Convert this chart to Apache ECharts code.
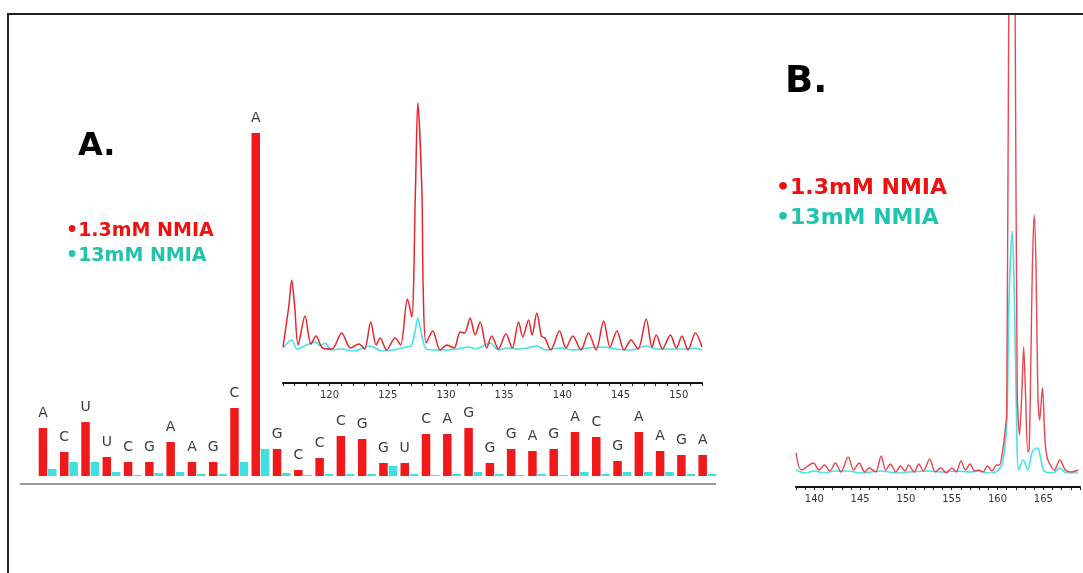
<!DOCTYPE html>
<html>
<head>
<meta charset="utf-8">
<script src="https://cdn.jsdelivr.net/npm/echarts@6/dist/echarts.min.js"></script>
<style>
  html, body { margin: 0; padding: 0; background: #fff; }
  #chart { width: 1083px; height: 573px; }
</style>
</head>
<body>
<div id="chart"></div>
<script>
// panel A bars: nucleotide letters and reactivities (arbitrary units)
var nucleotides = ['A','C','U','U','C','G','A','A','G','C','A','G','C','C','C','G',
                   'G','U','C','A','G','G','G','A','G','A','C','G','A','A','G','A']
var lowNmia = [0.48,0.24,0.54,0.19,0.14,0.14,0.34,0.14,0.14,0.68,3.43,0.27,0.06,0.18,0.40,0.37,
               0.13,0.13,0.42,0.42,0.48,0.13,0.27,0.25,0.27,0.44,0.39,0.15,0.44,0.25,0.21,0.21]
var highNmia = [0.07,0.14,0.14,0.04,0.01,0.03,0.04,0.02,0.02,0.14,0.27,0.03,0.01,0.02,0.02,0.02,
                0.10,0.02,0.01,0.02,0.04,0.02,0.01,0.02,0.01,0.04,0.02,0.04,0.04,0.04,0.02,0.02]

// panel A inset trace: [nucleotide position, signal]
var insetLow = [[116.0,0.4],[116.5,4.5],[116.75,7.1],[117.0,4.5],[117.3,0.6],[117.89,3.5],[118.4,0.7],
  [118.84,1.5],[119.4,0.3],[120.2,0.2],[121.04,1.8],[121.8,0.3],[122.53,0.7],[123.0,0.2],[123.54,2.9],
  [124.0,0.6],[124.34,1.3],[124.9,0.1],[125.63,1.3],[126.1,0.6],[126.69,5.2],[127.06,3.4],[127.38,16.1],
  [127.58,24.8],[127.93,16.1],[128.05,6.0],[128.3,0.8],[128.87,2.0],[129.5,0.1],[130.1,0.6],[130.7,0.3],
  [131.22,1.9],[131.6,1.8],[132.08,3.3],[132.5,1.6],[132.94,2.9],[133.5,0.3],[133.94,1.5],[134.5,0.2],
  [135.15,1.7],[135.7,0.3],[136.24,2.9],[136.6,1.4],[137.1,3.1],[137.4,1.6],[137.81,3.8],[138.2,1.5],
  [138.5,1.3],[139.0,0.1],[139.76,2.0],[140.3,0.3],[140.9,1.5],[141.6,0.1],[142.25,1.8],[142.9,0.1],
  [143.55,3.0],[144.1,0.4],[144.69,2.0],[145.3,0.1],[145.9,1.1],[146.5,0.2],[147.21,3.2],[147.7,0.4],
  [148.07,1.6],[148.6,0.2],[149.28,1.6],[149.8,0.3],[150.28,1.5],[150.8,0.1],[151.43,1.8],[152.0,0.4]]
var insetHigh = [[116.0,0.3],[116.75,1.1],[117.2,0.2],[118.0,0.6],[118.8,0.9],[119.2,0.5],[119.6,0.8],
  [120.2,0.1],[121.0,0.2],[122.0,0],[123.5,0.5],[124.5,0],[125.5,0.1],[126.6,0.4],[127.0,0.5],
  [127.35,2.0],[127.58,3.3],[127.85,2.0],[128.3,0.2],[129.0,0.1],[130.0,0.1],[131.0,0.2],[132.0,0.4],
  [132.5,0.2],[133.0,0.4],[133.8,0.8],[134.5,0.1],[135.2,0.3],[136.2,0.2],[137.0,0.3],[137.8,0.5],
  [138.6,0.1],[139.8,0.3],[140.9,0.1],[142.2,0.3],[143.5,0.4],[144.6,0.2],[145.9,0.1],[147.2,0.5],
  [148.1,0.2],[149.3,0.2],[150.3,0.2],[151.4,0.3],[152.0,0.1]]

// panel B trace
var traceLow = [[138.0,2.0],[138.6,0.3],[139.9,1.0],[140.5,0.3],[141.1,0.8],[141.7,0.2],[142.3,1.0],
  [142.9,0.1],[143.7,1.6],[144.3,0.3],[144.9,1.0],[145.5,0.1],[146.0,0.5],[146.7,0.1],[147.3,1.7],
  [147.8,0.3],[148.3,0.9],[148.9,0.1],[149.4,0.7],[149.9,0.2],[150.3,0.8],[150.9,0.1],[151.4,0.9],
  [151.9,0.2],[152.6,1.4],[153.2,0.1],[153.8,0.5],[154.4,0],[155.0,0.5],[155.5,0.1],[156.0,1.2],
  [156.5,0.3],[157.0,0.9],[157.5,0.2],[157.9,0.3],[158.4,0.1],[158.9,0.7],[159.4,0.2],[159.9,0.8],
  [160.2,0.8],[160.6,2.5],[160.8,4.0],[161.0,6.0],[161.22,46],[161.57,80],[161.92,46],[162.15,8],
  [162.4,3.8],[162.65,8],[162.85,12.6],[163.05,8],[163.3,2.1],[163.45,2.4],[163.65,12],[163.8,20.6],
  [164.0,25.8],[164.2,20.6],[164.4,8],[164.6,5.3],[164.9,8.5],[165.2,3],[165.5,1.3],[166.2,0.3],
  [166.8,1.3],[167.4,0.3],[168.0,0.1],[168.8,0.3]]
var traceHigh = [[138.0,0.3],[139.0,0],[140.0,0.2],[141.0,0],[142.3,0.2],[143.7,0.2],[145.0,0],
  [147.3,0.2],[149.0,0],[150.3,0.1],[152.6,0.2],[154.0,0.1],[155.5,0.2],[157.0,0.1],[158.0,0.2],
  [159.0,0],[160.0,0.2],[160.6,1.3],[161.0,5],[161.25,17.3],[161.6,24.2],[161.85,17],[162.1,4],
  [162.3,0.3],[162.8,1.3],[163.3,0.3],[163.7,1.8],[163.9,2.3],[164.4,2.5],[164.7,1.5],[165.1,0.2],
  [166.0,0],[166.8,0.5],[167.5,0],[168.8,0]]

var RED = '#f01a1a'
var CYAN = '#40e0e2'
var TRACE_RED = '#e8252d'
var TRACE_CYAN = '#45e2e8'

var chart = echarts.init(document.getElementById('chart'), null, { renderer: 'canvas' })

function traceAxis(min, max, offset, gridIndex) {
  return {
    type: 'value',
    gridIndex: gridIndex,
    min: min,
    max: max,
    interval: 1,
    offset: offset,
    axisLine: { show: true, onZero: false, lineStyle: { color: '#111', width: 2 } },
    axisTick: { show: true, length: 3, lineStyle: { color: '#222', width: 1 } },
    axisLabel: {
      margin: 7,
      fontSize: 10,
      fontFamily: 'DejaVu Sans',
      color: '#333',
      formatter: function (v) {
        return v % 5 === 0 ? String(v) : ''
      }
    },
    splitLine: { show: false }
  }
}

chart.setOption({
  backgroundColor: '#fff',
  animation: false,
  grid: [
    { left: 37, right: 365, top: 126, bottom: 97 },   // bars
    { left: 283, right: 381, top: 101, bottom: 222 }, // inset trace
    { left: 796, right: 1, top: 15, bottom: 100 }     // panel B
  ],
  xAxis: [
    {
      type: 'category',
      gridIndex: 0,
      data: nucleotides,
      axisLine: { show: false },
      axisTick: { show: false },
      axisLabel: { show: false }
    },
    traceAxis(116, 152, 32, 1),
    traceAxis(138, 169, 14, 2)
  ],
  yAxis: [
    { type: 'value', gridIndex: 0, min: 0, max: 3.5, show: false },
    { type: 'value', gridIndex: 1, min: 0, max: 25, show: false },
    { type: 'value', gridIndex: 2, min: 0, max: 45.8, show: false }
  ],
  series: [
    {
      name: '1.3mM NMIA',
      type: 'bar',
      xAxisIndex: 0,
      yAxisIndex: 0,
      data: lowNmia,
      barWidth: '40%',
      barGap: '10%',
      itemStyle: { color: RED },
      label: {
        show: true,
        position: 'top',
        distance: 8,
        fontSize: 14,
        fontFamily: 'DejaVu Sans',
        color: '#3c3c3c',
        formatter: function (p) {
          return nucleotides[p.dataIndex]
        }
      }
    },
    {
      name: '13mM NMIA',
      type: 'bar',
      xAxisIndex: 0,
      yAxisIndex: 0,
      data: highNmia,
      barWidth: '40%',
      barGap: '10%',
      itemStyle: { color: CYAN }
    },
    {
      type: 'line',
      xAxisIndex: 1,
      yAxisIndex: 1,
      data: insetHigh,
      smooth: 0.3,
      showSymbol: false,
      lineStyle: { color: TRACE_CYAN, width: 1.6 }
    },
    {
      type: 'line',
      xAxisIndex: 1,
      yAxisIndex: 1,
      data: insetLow,
      smooth: 0.3,
      showSymbol: false,
      lineStyle: { color: TRACE_RED, width: 1.5 }
    },
    {
      type: 'line',
      xAxisIndex: 2,
      yAxisIndex: 2,
      data: traceHigh,
      smooth: 0.3,
      showSymbol: false,
      clip: true,
      lineStyle: { color: TRACE_CYAN, width: 1.6 }
    },
    {
      type: 'line',
      xAxisIndex: 2,
      yAxisIndex: 2,
      data: traceLow,
      smooth: 0.3,
      showSymbol: false,
      clip: true,
      lineStyle: { color: '#ea4650', width: 1.4 }
    }
  ],
  graphic: [
    // frame
    { type: 'polyline', shape: { points: [[8, 573], [8, 14], [1083, 14]] },
      style: { stroke: '#222', lineWidth: 2, fill: null }, z: 10 },
    // baseline under the bars
    { type: 'line', shape: { x1: 20, y1: 484, x2: 716, y2: 484 },
      style: { stroke: '#9a9a9a', lineWidth: 2 } },
    { type: 'text', left: 78, top: 131,
      style: { text: 'A.', font: 'bold 32px "DejaVu Sans"', fill: '#000' } },
    { type: 'text', left: 785, top: 64,
      style: { text: 'B.', font: 'bold 37px "DejaVu Sans"', fill: '#000' } },
    { type: 'text', left: 66, top: 222,
      style: { text: '\u20221.3mM NMIA', font: 'bold 19px "DejaVu Sans"', fill: '#ee1111' } },
    { type: 'text', left: 66, top: 247,
      style: { text: '\u202213mM NMIA', font: 'bold 19px "DejaVu Sans"', fill: '#20c4ae' } },
    { type: 'text', left: 776, top: 177,
      style: { text: '\u20221.3mM NMIA', font: 'bold 22px "DejaVu Sans"', fill: '#ee1111' } },
    { type: 'text', left: 776, top: 207,
      style: { text: '\u202213mM NMIA', font: 'bold 22px "DejaVu Sans"', fill: '#20c4ae' } }
  ]
})
</script>
</body>
</html>
